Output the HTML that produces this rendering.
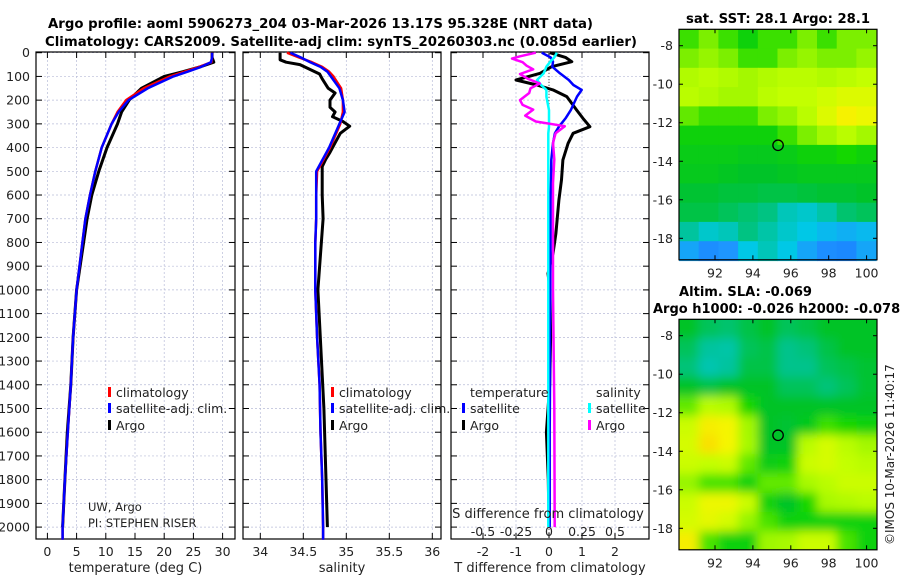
<!DOCTYPE html>
<html><head><meta charset="utf-8">
<style>
html,body{margin:0;padding:0;background:#fff;}
svg{display:block;font-family:"DejaVu Sans","Liberation Sans",sans-serif;}
</style></head>
<body>
<svg id="fig" width="900" height="580" viewBox="0 0 900 580" xmlns="http://www.w3.org/2000/svg">
<defs><filter id="smooth"><feGaussianBlur stdDeviation="5"/></filter>
<clipPath id="clipSla"><rect x="679" y="319" width="198" height="231"/></clipPath></defs>
<text x="48" y="28" textLength="545" lengthAdjust="spacingAndGlyphs" font-size="13" font-weight="bold">Argo profile: aoml 5906273_204 03-Mar-2026 13.17S 95.328E (NRT data)</text>
<text x="45" y="46" textLength="592" lengthAdjust="spacingAndGlyphs" font-size="13" font-weight="bold">Climatology: CARS2009. Satellite-adj clim: synTS_20260303.nc (0.085d earlier)</text>
<text x="686" y="23" textLength="184" lengthAdjust="spacingAndGlyphs" font-size="13" font-weight="bold">sat. SST: 28.1 Argo: 28.1</text>
<text x="679" y="296" textLength="133" lengthAdjust="spacingAndGlyphs" font-size="13" font-weight="bold">Altim. SLA: -0.069</text>
<text x="653" y="313" font-size="13" font-weight="bold">Argo h1000: -0.026 h2000: -0.078</text>
<text transform="translate(894,545) rotate(-90)" font-size="12" fill="#222">©IMOS 10-Mar-2026 11:40:17</text>
<g id="g"></g>
</svg>
<script>
// ---- data ----
const depths = [0,20,40,60,80,100,150,200,250,300,400,500,600,700,800,1000,1200,1400,1600,1800,2000,2053];
const tempClim = [28.2,28.2,28.1,26.0,23.5,21.0,16.5,13.5,12.0,11.0,9.3,8.2,7.3,6.5,6.0,5.0,4.4,4.0,3.5,3.0,2.6,2.6];
const tempSat  = [28.2,28.2,28.0,26.3,24.0,21.6,17.2,13.9,12.2,11.0,9.3,8.2,7.3,6.5,6.0,5.0,4.4,4.0,3.5,3.0,2.6,2.6];
const tempArgo = [28.2,28.2,28.5,26.1,23.2,20.0,16.1,14.0,12.7,12.0,10.2,8.8,7.6,6.8,6.2,5.0,4.4,4.0,3.4,3.0,2.6,null];
const salClim = [34.31,34.45,34.6,34.72,34.8,34.85,34.94,34.96,34.96,34.93,34.81,34.66,34.65,34.65,34.64,34.64,34.66,34.69,34.70,34.72,34.73,34.73];
const salSat  = [34.35,34.47,34.58,34.7,34.78,34.82,34.92,34.96,34.98,34.92,34.8,34.65,34.65,34.65,34.64,34.64,34.66,34.69,34.70,34.72,34.73,34.73];
const argoSalDepths = [0,30,40,50,90,110,150,170,200,230,250,270,290,310,340,380,420,450,480,600,700,1000,1500,2000];
const argoSal = [34.23,34.23,34.3,34.46,34.69,34.72,34.79,34.87,34.81,34.81,34.87,34.84,34.96,35.04,34.93,34.87,34.81,34.76,34.72,34.72,34.73,34.67,34.74,34.78];
const diffDepths = [0,20,38,59,87,115,136,157,185,242,277,312,340,382,452,536,621,762,846,931,1000,1200,1400,1600,1800,2000];
const tDiffArgo = [0.03,0.5,0.69,0.08,-0.27,-1.0,-0.37,0.12,0.54,0.84,1.03,1.24,0.73,0.58,0.42,0.38,0.3,0.21,0.12,-0.03,0.03,0.05,0.02,-0.08,-0.02,0];
const tDiffSat  = [-0.22,0.05,0.12,0.1,0.33,0.6,0.74,0.99,0.85,0.66,0.5,0.3,0.18,0.12,0.07,0.06,0.05,0.05,0.05,0.04,0.04,0.03,0.03,0.02,0.02,0.02];
const sDiffSat  = [0.06,0.04,0.01,-0.02,-0.04,-0.09,-0.06,-0.02,-0.02,0.0,0.0,0.0,-0.005,-0.005,-0.005,-0.005,-0.005,-0.005,-0.005,-0.005,-0.005,-0.005,-0.005,-0.005,-0.005,-0.005];
const sDiffArgoDepths = [0,15,25,40,55,70,90,110,130,150,170,200,220,240,265,290,310,340,380,450,550,700,1000,1500,2000];
const sDiffArgo = [-0.1,-0.22,-0.28,-0.2,-0.17,-0.12,-0.22,-0.16,-0.07,-0.14,-0.15,-0.22,-0.2,-0.12,-0.18,-0.1,0.12,0.05,0.03,0.04,0.03,0.03,0.03,0.04,0.043];
const depthTicks = [0,100,200,300,400,500,600,700,800,900,1000,1100,1200,1300,1400,1500,1600,1700,1800,1900,2000];
const tempTicks = [0,5,10,15,20,25,30];
const salTicks = [34,34.5,35,35.5,36];
const tDiffTicks = [-2,-1,0,1,2];
const sDiffTicks = [-0.5,-0.25,0,0.25,0.5];
const lonTicks = [92,94,96,98,100];
const latTicks = [-8,-10,-12,-14,-16,-18];
const sstRows = [
[0.55,0.6,0.55,0.5,0.55,0.55,0.6,0.55,0.6,0.6],
[0.6,0.62,0.6,0.55,0.55,0.6,0.62,0.6,0.6,0.62],
[0.68,0.7,0.68,0.65,0.68,0.7,0.7,0.68,0.7,0.72],
[0.7,0.68,0.65,0.65,0.7,0.72,0.72,0.75,0.78,0.78],
[0.58,0.55,0.55,0.55,0.6,0.62,0.7,0.78,0.85,0.82],
[0.5,0.5,0.5,0.5,0.5,0.55,0.6,0.65,0.7,0.65],
[0.48,0.48,0.48,0.47,0.47,0.48,0.5,0.5,0.52,0.5],
[0.47,0.47,0.46,0.45,0.45,0.46,0.47,0.47,0.47,0.47],
[0.44,0.44,0.43,0.43,0.42,0.42,0.43,0.44,0.44,0.45],
[0.42,0.42,0.4,0.38,0.36,0.3,0.28,0.32,0.38,0.4],
[0.33,0.28,0.3,0.36,0.32,0.28,0.25,0.22,0.2,0.22],
[0.18,0.12,0.15,0.25,0.3,0.25,0.18,0.12,0.1,0.18]];
const slaRows = [
[0.45,0.4,0.38,0.42,0.45,0.4,0.42,0.45,0.45,0.45],
[0.4,0.33,0.32,0.4,0.42,0.35,0.37,0.42,0.45,0.45],
[0.37,0.31,0.33,0.42,0.42,0.35,0.35,0.4,0.42,0.44],
[0.45,0.42,0.45,0.45,0.45,0.4,0.4,0.37,0.4,0.44],
[0.58,0.7,0.68,0.52,0.45,0.45,0.45,0.45,0.45,0.45],
[0.74,0.86,0.84,0.65,0.45,0.44,0.47,0.55,0.52,0.5],
[0.76,0.9,0.84,0.66,0.45,0.45,0.7,0.76,0.7,0.65],
[0.74,0.72,0.74,0.58,0.48,0.5,0.74,0.76,0.72,0.7],
[0.62,0.56,0.56,0.5,0.58,0.58,0.66,0.7,0.74,0.74],
[0.74,0.82,0.82,0.74,0.5,0.45,0.52,0.66,0.68,0.7],
[0.76,0.8,0.76,0.62,0.56,0.5,0.5,0.5,0.5,0.5],
[0.86,0.56,0.5,0.5,0.64,0.66,0.74,0.74,0.56,0.5]];
const floatLon = 95.328, floatLat = -13.17;

// ---- helpers ----
const NS="http://www.w3.org/2000/svg";
const G=document.getElementById('g');
function mk(tag,attrs,parent){const e=document.createElementNS(NS,tag);for(const k in attrs)e.setAttribute(k,attrs[k]);(parent||G).appendChild(e);return e;}
const Y0=52.7, KY=0.2372;
const yD=d=>Y0+d*KY;
const PT=52, PB=539;
const xT=v=>47.4+v*5.84;
const xS=v=>260.3+(v-34)*86;
const xTD=v=>549+v*33;
const xSD=v=>549+v*132;

function panel(x0,x1,name,xticks,xf,tickFmt,xlabel){
  const g=mk('g',{});
  
  
  for(const d of depthTicks){const y=yD(d);
    const l=mk('line',{x1:x0,x2:x1,y1:y,y2:y,stroke:'#b8bcd8','stroke-width':0.7,'stroke-dasharray':'2,2'},g);
    
    mk('line',{x1:x0,x2:x0+6,y1:y,y2:y,stroke:'#000','stroke-width':1},g);
    mk('line',{x1:x1-6,x2:x1,y1:y,y2:y,stroke:'#000','stroke-width':1},g);}
  for(const t of xticks){const x=xf(t);
    const l=mk('line',{x1:x,x2:x,y1:PT,y2:PB,stroke:'#b8bcd8','stroke-width':0.7,'stroke-dasharray':'2,2'},g);
    
    mk('line',{x1:x,x2:x,y1:PB-6,y2:PB,stroke:'#000'},g);
    mk('line',{x1:x,x2:x,y1:PT,y2:PT+6,stroke:'#000'},g);
    const tx=mk('text',{x:x,y:556,'text-anchor':'middle','font-size':12.5,fill:'#222'},g);tx.textContent=tickFmt(t);
    }
  const r=mk('rect',{x:x0,y:PT,width:x1-x0,height:PB-PT,fill:'none',stroke:'#000','stroke-width':1.2},g);
  
  const lb=mk('text',{x:(x0+x1)/2,y:572,'text-anchor':'middle','font-size':13,fill:'#222'},g);lb.textContent=xlabel;
  
  return g;
}
function line(ds,vs,xf,color,w,name){
  let p='';ds.forEach((d,i)=>{if(vs[i]==null)return;p+=(p?'L':'M')+xf(vs[i]).toFixed(1)+','+yD(d).toFixed(1);});
  const e=mk('path',{d:p,fill:'none',stroke:color,'stroke-width':w,'stroke-linejoin':'round'});
  return e;
}
function txt(x,y,s,size,name,anchor){const t=mk('text',{x:x,y:y,'font-size':size,fill:'#222','text-anchor':anchor||'start'});t.textContent=s;
  return t;}
function legendItem(x,y,color,label){const g=mk('g',{});
  
  mk('rect',{x:x,y:y-10,width:3,height:10,fill:color},g);
  const t=mk('text',{x:x+8,y:y,'font-size':12.5,fill:'#222'},g);t.textContent=label;}

// ---- depth labels ----
for(const d of depthTicks){txt(30,yD(d)+4.5,String(d),12.5,'y-tick-label','end');}

// ---- panel 1 temperature ----
panel(36,235,'temperature-panel',tempTicks,xT,String,'temperature (deg C)');
line(depths,tempArgo,xT,'#000',3,'argo-temperature-line');
line(depths,tempClim,xT,'#f00',2.5,'climatology-temperature-line');
line(depths,tempSat,xT,'#00f',2.5,'satellite-temperature-line');
legendItem(108,397,'#f00','climatology');
legendItem(108,413,'#00f','satellite-adj. clim.');
legendItem(108,430,'#000','Argo');
txt(88,511,'UW, Argo',11.5,'pi-institution');
txt(88,527,'PI: STEPHEN RISER',11.5,'pi-name');

// ---- panel 2 salinity ----
panel(243,441,'salinity-panel',salTicks,xS,String,'salinity');
line(argoSalDepths,argoSal,xS,'#000',3,'argo-salinity-line');
line(depths,salClim,xS,'#f00',2.5,'climatology-salinity-line');
line(depths,salSat,xS,'#00f',2.5,'satellite-salinity-line');
legendItem(331,397,'#f00','climatology');
legendItem(331,413,'#00f','satellite-adj. clim.');
legendItem(331,430,'#000','Argo');

// ---- panel 3 differences ----
panel(451,649,'difference-panel',tDiffTicks,xTD,String,'T difference from climatology');
const zl=mk('line',{x1:549,x2:549,y1:PT,y2:PB,stroke:'#555','stroke-width':1,'stroke-dasharray':'1,2'});

line(diffDepths,tDiffArgo,xTD,'#000',3,'argo-t-diff-line');
line(diffDepths,tDiffSat,xTD,'#00f',2.5,'satellite-t-diff-line');
line(diffDepths,sDiffSat,xSD,'#0ff',2.5,'satellite-s-diff-line');
line(sDiffArgoDepths,sDiffArgo,xSD,'#f0f',2.5,'argo-s-diff-line');
txt(470,397,'temperature',12.5,'legend-title-temperature');
txt(596,397,'salinity',12.5,'legend-title-salinity');
legendItem(462,413,'#00f','satellite');
legendItem(462,430,'#000','Argo');
legendItem(588,413,'#0ff','satellite');
legendItem(588,430,'#f0f','Argo');
txt(548,518,'S difference from climatology',13,'s-diff-axis-title','middle');
for(const t of sDiffTicks){txt(xSD(t),536,String(t),12.5,'s-diff-tick-label','middle');}

// ---- maps ----
const stops=[[0,[20,110,255]],[0.15,[30,150,255]],[0.25,[0,200,230]],[0.35,[0,195,140]],[0.45,[0,195,40]],[0.52,[20,215,0]],[0.62,[150,245,0]],[0.72,[195,255,0]],[0.84,[245,245,0]],[1,[255,190,0]]];
function cmap(v){for(let i=1;i<stops.length;i++){if(v<=stops[i][0]){const a=stops[i-1],b=stops[i],f=(v-a[0])/(b[0]-a[0]);
  const c=a[1].map((q,k)=>Math.round(q+(b[1][k]-q)*f));return 'rgb('+c+')';}}return 'rgb(255,190,0)';}
function mapPanel(top,rows,name,smooth){
  const xL=l=>715+(l-92)*18.95;
  const yL=la=>top+16.4+(-8-la)*19.26;
  const g=mk('g',{});
  
  const cg=mk('g',smooth?{'clip-path':'url(#clipSla)'}:{},g);
  const inner=mk('g',smooth?{filter:'url(#smooth)'}:{},cg);
  const nC=rows[0].length,nR=rows.length;
  const lonE=i=>90.1+i*(10.4/nC), latE=j=>-7.15-j*(12/nR);
  rows.forEach((row,j)=>row.forEach((v,i)=>{
    const pad=smooth?(i==0||i==nC-1||j==0||j==nR-1?12:0):0;
    const x0=xL(lonE(i)),x1=xL(lonE(i+1)),y0=yL(latE(j)),y1=yL(latE(j+1));
    const c=mk('rect',{x:(x0-(i==0?pad:0)).toFixed(1),y:(y0-(j==0?pad:0)).toFixed(1),width:(x1-x0+0.6+(i==0||i==nC-1?pad:0)).toFixed(1),height:(y1-y0+0.6+(j==0||j==nR-1?pad:0)).toFixed(1),fill:cmap(v)},inner);
    }));
  const fr=mk('rect',{x:679,y:top,width:198,height:230.5,fill:'none',stroke:'#000','stroke-width':1.2},g);
  
  for(const l of lonTicks){const x=xL(l);mk('line',{x1:x,x2:x,y1:top+230.5,y2:top+226,stroke:'#000'},g);mk('line',{x1:x,x2:x,y1:top,y2:top+4,stroke:'#000'},g);
    const t=mk('text',{x:x,y:top+248,'text-anchor':'middle','font-size':12.5,fill:'#222'},g);t.textContent=String(l);
    }
  for(const la of latTicks){const y=yL(la);mk('line',{x1:679,x2:683,y1:y,y2:y,stroke:'#000'},g);mk('line',{x1:873,x2:877,y1:y,y2:y,stroke:'#000'},g);
    const t=mk('text',{x:673,y:y+4.5,'text-anchor':'end','font-size':12.5,fill:'#222'},g);t.textContent=String(la);
    }
  const m=mk('circle',{cx:xL(floatLon),cy:yL(floatLat),r:5.2,fill:'none',stroke:'#000','stroke-width':1.3},g);
  
}
mapPanel(29.3,sstRows,'sst-map',false);
mapPanel(319.3,slaRows,'sla-map',true);
</script>
</body></html>
